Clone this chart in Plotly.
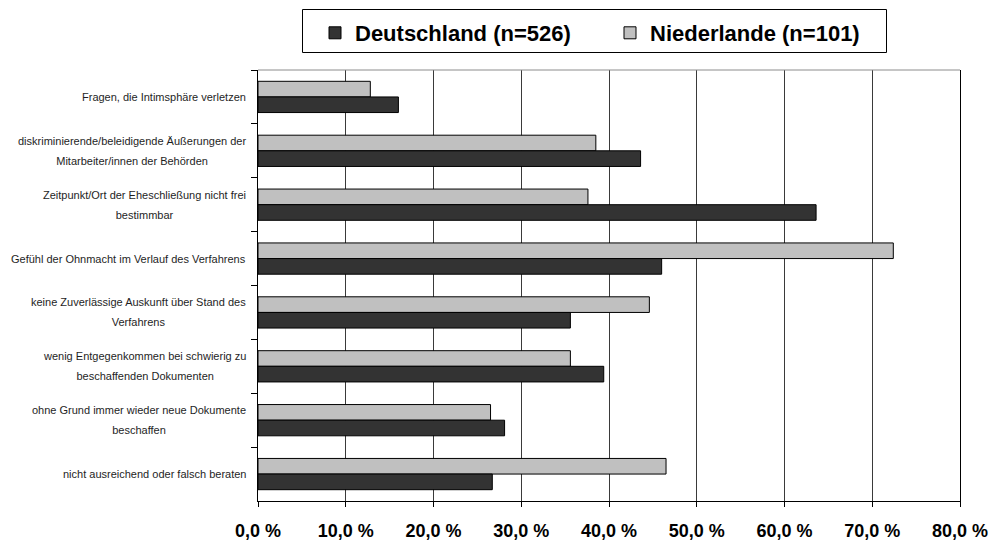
import plotly.graph_objects as go

# Survey items (top to bottom), line breaks as drawn
categories = [
    "Fragen, die Intimsphäre verletzen",
    "diskriminierende/beleidigende Äußerungen der<br>Mitarbeiter/innen der Behörden",
    "Zeitpunkt/Ort der Eheschließung nicht frei<br>bestimmbar",
    "Gefühl der Ohnmacht im Verlauf des Verfahrens",
    "keine Zuverlässige Auskunft über Stand des<br>Verfahrens",
    "wenig Entgegenkommen bei schwierig zu<br>beschaffenden Dokumenten",
    "ohne Grund immer wieder neue Dokumente<br>beschaffen",
    "nicht ausreichend oder falsch beraten",
]

# Share of respondents in percent
deutschland = [16.0, 43.6, 63.6, 46.0, 35.6, 39.4, 28.1, 26.7]
niederlande = [12.8, 38.5, 37.6, 72.4, 44.6, 35.6, 26.5, 46.5]

tick_values = [0, 10, 20, 30, 40, 50, 60, 70, 80]
tick_labels = ["0,0 %", "10,0 %", "20,0 %", "30,0 %", "40,0 %",
               "50,0 %", "60,0 %", "70,0 %", "80,0 %"]

FONT = "Liberation Sans, Arial, sans-serif"
DARK = "#333333"
LIGHT = "#C0C0C0"

# Plot area in pixels
W, H = 993, 546
L, R, T, B = 258, 33, 70, 45
PW, PH = W - L - R, H - T - B


def px_x(px):
    return (px - L) / PW


def px_y(py):
    return (H - B - py) / PH


fig = go.Figure()

fig.add_trace(go.Bar(
    y=categories, x=niederlande, orientation="h",
    name="Niederlande (n=101)",
    marker=dict(color=LIGHT, line=dict(color="#000000", width=1)),
    hoverinfo="skip",
))
fig.add_trace(go.Bar(
    y=categories, x=deutschland, orientation="h",
    name="Deutschland (n=526)",
    marker=dict(color=DARK, line=dict(color="#000000", width=1)),
    hoverinfo="skip",
))

# Category labels: 11px text on a 20px line pitch (the outer font size
# only drives the line spacing, each line is rendered at 11px)
LABEL_SIZE = 11
LINE_PITCH = 20
annotations = []
for cat in categories:
    text = "<br>".join(
        "<span style='font-size:{}px'>{}</span>".format(LABEL_SIZE, line)
        for line in cat.split("<br>")
    )
    annotations.append(dict(
        xref="paper", yref="y", x=0, y=cat, xanchor="right",
        yanchor="middle", xshift=-10, showarrow=False, align="center",
        text=text,
        font=dict(family=FONT, size=LINE_PITCH / 1.3, color="#1e1e1e"),
    ))

shapes = [
    # light top border of the plot area
    dict(type="line", xref="paper", yref="paper", x0=0, x1=1, y0=1, y1=1,
         line=dict(color="#8c8c8c", width=1)),
    # legend frame
    dict(type="rect", xref="paper", yref="paper",
         x0=px_x(302.5), x1=px_x(886.5), y0=px_y(52.5), y1=px_y(9.5),
         line=dict(color="#000000", width=1), fillcolor="rgba(0,0,0,0)"),
]

fig.update_layout(
    width=W, height=H,
    margin=dict(l=L, r=R, t=T, b=B, pad=0, autoexpand=False),
    paper_bgcolor="white", plot_bgcolor="white",
    font=dict(family=FONT, color="#000000"),
    barmode="group", bargap=0.42, bargroupgap=0,
    showlegend=True,
    legend=dict(
        orientation="h", traceorder="reversed",
        x=px_x(315), xanchor="left", y=px_y(33), yanchor="middle",
        font=dict(family=FONT, size=22, color="#000000", weight="bold"),
        entrywidth=250, bgcolor="rgba(0,0,0,0)", borderwidth=0,
    ),
    xaxis=dict(
        range=[0, 80], tickvals=tick_values, ticktext=tick_labels,
        ticks="outside", ticklen=5, tickcolor="#000000", tickwidth=1,
        ticklabelstandoff=8,
        showgrid=True, gridcolor="#3a3a3a", gridwidth=1,
        showline=True, linecolor="#000000", linewidth=1,
        zeroline=False, automargin=False,
        tickfont=dict(family=FONT, size=18, color="#000000", weight="bold"),
    ),
    yaxis=dict(
        type="category", categoryorder="array", categoryarray=categories,
        autorange="reversed",
        ticks="outside", tickson="boundaries", ticklen=6,
        tickcolor="#000000", tickwidth=1,
        showticklabels=False, showgrid=False, zeroline=False,
        showline=True, linecolor="#000000", linewidth=1, mirror=True,
        automargin=False,
    ),
    annotations=annotations,
    shapes=shapes,
)

fig.write_html("out.html")
